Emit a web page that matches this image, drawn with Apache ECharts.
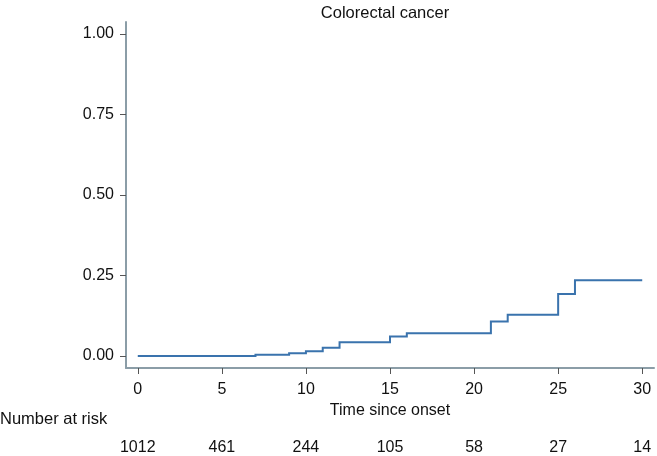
<!DOCTYPE html>
<html>
<head>
<meta charset="utf-8">
<script src="https://cdn.jsdelivr.net/npm/echarts@6/dist/echarts.min.js"></script>
<style>
html,body{margin:0;padding:0;background:#fff;}
#chart{width:657px;height:456px;}
</style>
</head>
<body>
<div id="chart"></div>
<script>
var times = [0, 7, 9, 10, 11, 12, 15, 16, 21, 22, 25, 26, 30];
var cumInc = [0, 0.004, 0.009, 0.015, 0.026, 0.043, 0.061, 0.071, 0.107, 0.128, 0.193, 0.235, 0.235];
var xTicks = [0, 5, 10, 15, 20, 25, 30];
var yTicks = [0, 0.25, 0.5, 0.75, 1];
var atRisk = [1012, 461, 244, 105, 58, 27, 14];

var FONT = '"Liberation Sans", Arial, sans-serif';
var axisCol = '#8b9da7';
var chart = echarts.init(document.getElementById('chart'), null, {renderer: 'canvas'});
chart.setOption({
  animation: false,
  backgroundColor: '#fff',
  title: [
    {text: 'Colorectal cancer', left: 385, top: 5, padding: 0, textAlign: 'center',
     textStyle: {fontFamily: FONT, fontSize: 16.5, fontWeight: 'normal', color: '#111'}},
    {text: 'Number at risk', left: 0, top: 411, padding: 0,
     textStyle: {fontFamily: FONT, fontSize: 16.5, fontWeight: 'normal', color: '#111'}}
  ],
  grid: {left: 126, right: 3, top: 22, bottom: 88, containLabel: false},
  xAxis: [
    {
      type: 'value', min: -0.7, max: 30.7, position: 'bottom',
      name: 'Time since onset', nameLocation: 'middle', nameGap: 35,
      nameTextStyle: {fontFamily: FONT, fontSize: 16, color: '#111'},
      axisLine: {show: true, onZero: false, lineStyle: {color: axisCol, width: 2}},
      axisTick: {show: true, customValues: xTicks, length: 6, lineStyle: {color: '#555', width: 1}},
      axisLabel: {customValues: xTicks, margin: 14, fontFamily: FONT, fontSize: 16, color: '#111'},
      splitLine: {show: false}
    },
    {
      type: 'value', min: -0.7, max: 30.7, position: 'bottom', offset: 58,
      axisLine: {show: false, onZero: false}, axisTick: {show: false},
      axisLabel: {customValues: xTicks, margin: 14, fontFamily: FONT, fontSize: 16, color: '#111',
        formatter: function (v) { var i = xTicks.indexOf(v); return i >= 0 ? String(atRisk[i]) : ''; }},
      splitLine: {show: false}
    }
  ],
  yAxis: {
    type: 'value', min: -0.037, max: 1.037,
    axisLine: {show: true, onZero: false, lineStyle: {color: axisCol, width: 2}},
    axisTick: {show: true, customValues: yTicks, length: 6, lineStyle: {color: '#555', width: 1}},
    axisLabel: {customValues: yTicks, margin: 12, fontFamily: FONT, fontSize: 16, color: '#111',
      formatter: function (v) { return v.toFixed(2); }},
    splitLine: {show: false}
  },
  series: [{
    type: 'custom', xAxisIndex: 0, yAxisIndex: 0,
    data: times.map(function (t, i) { return [t, cumInc[i]]; }),
    encode: {x: 0, y: 1},
    renderItem: function (params, api) {
      if (params.dataIndex !== 0) { return null; }
      var pts = [];
      for (var i = 0; i < times.length; i++) {
        if (i > 0) { pts.push(api.coord([times[i], cumInc[i - 1]])); }
        pts.push(api.coord([times[i], cumInc[i]]));
      }
      return {
        type: 'polyline',
        shape: {points: pts},
        style: {stroke: '#3a73ad', lineWidth: 2, fill: null, lineJoin: 'miter'}
      };
    }
  }]
});
</script>
</body>
</html>
